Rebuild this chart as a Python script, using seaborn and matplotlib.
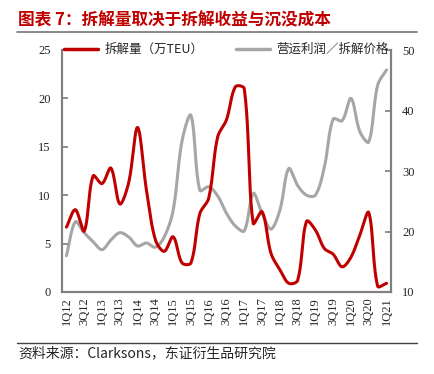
import numpy as np
import pandas as pd
import matplotlib
matplotlib.use("Agg")
import matplotlib.pyplot as plt
from matplotlib.lines import Line2D
import seaborn as sns

quarters = [f"{q}Q{y}" for y in range(12, 22) for q in range(1, 5)][:37]
tick_labels = quarters[::2]

scrap_volume = [6.7, 8.5, 6.3, 12.0, 11.2, 12.8, 9.1, 11.3, 17.0, 10.5,
                5.4, 4.2, 5.7, 3.0, 3.0, 8.1, 9.7, 16.0, 17.8, 21.2,
                21.0, 7.1, 8.3, 4.0, 2.3, 0.9, 1.2, 7.3, 6.4, 4.5,
                3.9, 2.6, 3.6, 5.9, 8.2, 0.6, 0.9]
profit_ratio = [16.0, 21.6, 19.8, 18.3, 17.0, 18.6, 19.8, 19.1, 17.6, 18.1,
                17.4, 19.1, 23.5, 35.0, 39.2, 26.8, 27.4, 25.9, 23.0, 20.9,
                20.1, 26.3, 23.0, 20.4, 23.5, 30.4, 27.6, 26.0, 26.0, 30.6,
                38.6, 38.3, 42.0, 36.5, 34.8, 44.2, 46.7]

series_names = ["拆解量（万TEU）", "营运利润／拆解价格"]
colors = ["#C00000", "#A6A6A6"]


def smooth(vals, xpx, ypx, n=24):
    """Excel-style smoothed line: Bezier segments with chord-length scaled controls (pixel space)."""
    v = np.asarray(vals, dtype=float)
    m = len(v)
    P = np.column_stack([np.arange(m) * xpx, v * ypx])
    P_ext = np.vstack([P[0], P, P[-1]])
    xs, ys = [], []
    for i in range(m - 1):
        p0, p1, p2, p3 = P_ext[i], P_ext[i + 1], P_ext[i + 2], P_ext[i + 3]
        d01 = np.linalg.norm(p1 - p0)
        d12 = np.linalg.norm(p2 - p1)
        d23 = np.linalg.norm(p3 - p2)
        a = d12 / (d01 + d12) if d01 + d12 > 0 else 0.5
        b = d12 / (d12 + d23) if d12 + d23 > 0 else 0.5
        b1 = p1 + (p2 - p0) * a / 3
        b2 = p2 - (p3 - p1) * b / 3
        t = np.linspace(0, 1, n, endpoint=False)[:, None]
        c = ((1 - t) ** 3) * p1 + 3 * ((1 - t) ** 2) * t * b1 + 3 * (1 - t) * t**2 * b2 + t**3 * p2
        xs.append(c[:, 0] / xpx)
        ys.append(c[:, 1] / ypx)
    xs.append(np.array([m - 1.0]))
    ys.append(np.array([v[-1]]))
    return np.concatenate(xs), np.concatenate(ys)


sx1, sy1 = smooth(scrap_volume, 8.9, 9.68)
sx2, sy2 = smooth(profit_ratio, 8.9, 6.07)
df1 = pd.DataFrame({"x": sx1, "y": sy1})
df2 = pd.DataFrame({"x": sx2, "y": sy2})

sns.set_theme(style="white")
plt.rcParams['font.family'] = ['Liberation Serif', 'Noto Sans CJK SC']

fig = plt.figure(figsize=(4.34, 3.74), dpi=100)
ax = fig.add_axes([62 / 434, 1 - 292 / 374, (391 - 62) / 434, (292 - 50) / 374])
ax2 = ax.twinx()

sns.lineplot(data=df1, x="x", y="y", ax=ax, color=colors[0], lw=2.2, zorder=3, sort=False)
sns.lineplot(data=df2, x="x", y="y", ax=ax2, color=colors[1], lw=2.2, zorder=2, sort=False)
ax.set_zorder(ax2.get_zorder() + 1)
ax.patch.set_visible(False)

ax.set_xlim(-0.5, 36.5)
ax.set_ylim(0, 25)
ax2.set_ylim(10, 50)
ax.set_yticks([0, 5, 10, 15, 20, 25])
ax2.set_yticks([10, 20, 30, 40, 50])
ax.set_xticks(range(0, 37, 2))
ax.set_xticklabels(tick_labels, rotation=90, fontsize=9, family='Liberation Serif', color='#262626')
ax.set_xticks(np.arange(-0.5, 36.6, 4), minor=True)
ax.tick_params(axis='x', which='major', length=0, pad=4)
ax.tick_params(axis='x', which='minor', length=4, direction='in', color='#808080', width=1)
ax.tick_params(axis='y', length=4, direction='in', color='#808080', labelsize=9, labelcolor='#262626', pad=8)
ax2.tick_params(axis='y', length=4, direction='in', color='#808080', labelsize=9, labelcolor='#262626', pad=8)
for a in (ax, ax2):
    a.set_xlabel("")
    a.set_ylabel("")
    a.grid(False)
    a.spines['top'].set_visible(False)
    for s in ('left', 'right', 'bottom'):
        a.spines[s].set_color('#808080')
        a.spines[s].set_linewidth(1.5)
for lab in ax.get_yticklabels() + ax2.get_yticklabels():
    lab.set_family('Liberation Serif')

handles = [Line2D([], [], color=c, lw=2.5) for c in colors]
leg = ax.legend(handles, series_names, loc='upper center', bbox_to_anchor=(0.5, 1.075), ncol=2,
                frameon=False, handlelength=2.7, columnspacing=2.6, handletextpad=0.5,
                prop={'family': ['Noto Sans CJK SC'], 'size': 9})
for t in leg.get_texts():
    t.set_color('#262626')

fig.text(18 / 434, 1 - 20 / 374, "图表 7：拆解量取决于拆解收益与沉没成本", fontsize=12, fontweight='bold',
         color='#C00000', family=['Noto Sans CJK SC'], va='center', ha='left')
fig.add_artist(Line2D([17 / 434, 417 / 434], [1 - 32 / 374] * 2, color='#808080', lw=1.3))
fig.add_artist(Line2D([17 / 434, 417 / 434], [1 - 343 / 374] * 2, color='#404040', lw=1.0))
fig.text(18 / 434, 1 - 353 / 374, "资料来源：Clarksons，东证衍生品研究院", fontsize=10,
         color='#262626', family=['Noto Sans CJK SC', 'Liberation Serif'], va='center', ha='left')

fig.savefig("out.png", dpi=100)
